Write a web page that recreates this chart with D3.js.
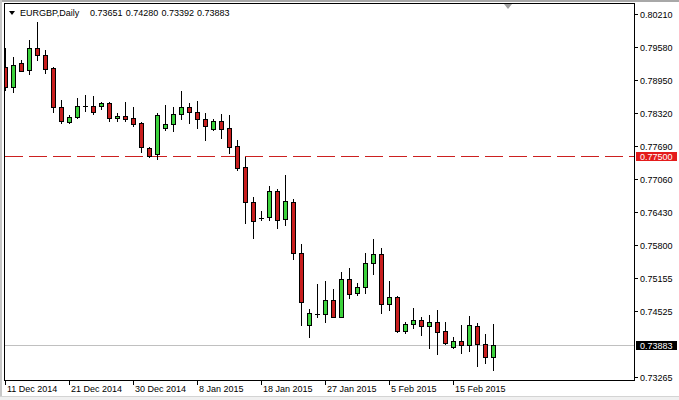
<!DOCTYPE html>
<html>
<head>
<meta charset="utf-8">
<script src="https://cdn.jsdelivr.net/npm/d3@7"></script>
<style>
  body { margin: 0; background: #fff; }
  svg { display: block; }
  text { font-family: "Liberation Sans", Arial, sans-serif; font-size: 9px; }
</style>
</head>
<body>
<div id="chart"></div>
<script>
// EURGBP daily candles, 11 Dec 2014 .. 20 Feb 2015
var opens  = [0.79202,0.78819,0.79273,0.79139,0.79560,0.79426,0.79177,0.78431,0.78144,0.78240,
              0.78456,0.78450,0.78456,0.78507,0.78215,0.78264,0.78215,0.78119,0.77641,0.77526,
              0.78035,0.78100,0.78291,0.78425,0.78341,0.78207,0.78016,0.78157,0.78023,0.77685,
              0.77277,0.76608,0.76307,0.76321,0.76824,0.76282,0.76613,0.75632,0.74251,0.74471,
              0.74465,0.74733,0.74419,0.75135,0.74863,0.74978,0.75441,0.75619,0.74656,0.74796,
              0.74136,0.74274,0.74350,0.74241,0.74312,0.74146,0.73834,0.73954,0.73872,0.74241,
              0.73891,0.73651];
var highs  = [0.79560,0.79387,0.79330,0.79713,0.80057,0.79521,0.79196,0.78565,0.78278,0.78603,
              0.78660,0.78641,0.78527,0.78527,0.78316,0.78527,0.78437,0.78150,0.77671,0.78310,
              0.78469,0.78425,0.78737,0.78513,0.78546,0.78310,0.78207,0.78297,0.78278,0.77800,
              0.77469,0.76703,0.76441,0.76920,0.76862,0.77130,0.76665,0.75810,0.74561,0.75045,
              0.75102,0.74945,0.75265,0.75351,0.75058,0.75632,0.75906,0.75728,0.75102,0.74815,
              0.74323,0.74580,0.74408,0.74452,0.74547,0.74312,0.74036,0.74260,0.74432,0.74293,
              0.74088,0.74280];
var lows   = [0.78756,0.78718,0.79110,0.79062,0.79330,0.79081,0.78335,0.78125,0.78125,0.78220,
              0.78354,0.78297,0.78393,0.78163,0.78163,0.78163,0.78073,0.77576,0.77480,0.77430,
              0.77991,0.77977,0.78196,0.78119,0.78035,0.77800,0.77991,0.77844,0.77545,0.77226,
              0.76217,0.75930,0.76269,0.76269,0.76110,0.76173,0.75517,0.74251,0.74025,0.74404,
              0.74323,0.74408,0.74414,0.74771,0.74834,0.74878,0.75230,0.74484,0.74547,0.74127,
              0.74113,0.74203,0.74069,0.73826,0.73706,0.73891,0.73815,0.73730,0.73769,0.73476,
              0.73539,0.73392];
var closes = [0.78819,0.79234,0.79125,0.79560,0.79426,0.79158,0.78431,0.78163,0.78240,0.78450,
              0.78456,0.78335,0.78513,0.78220,0.78264,0.78207,0.78100,0.77671,0.77499,0.78278,
              0.78106,0.78297,0.78425,0.78341,0.78196,0.78062,0.78157,0.78016,0.77671,0.77264,
              0.76608,0.76244,0.76307,0.76824,0.76275,0.76627,0.75632,0.74691,0.74484,0.74471,
              0.74733,0.74419,0.75135,0.74850,0.74982,0.75441,0.75619,0.74656,0.74796,0.74146,
              0.74279,0.74352,0.74241,0.74312,0.74121,0.73910,0.73954,0.73872,0.74255,0.73891,
              0.73642,0.73883];

// date labels every 8 bars
var dateTickIndex  = [0, 8, 16, 24, 32, 40, 48, 56];
var dateTickLabels = ["11 Dec 2014","21 Dec 2014","30 Dec 2014","8 Jan 2015",
                      "18 Jan 2015","27 Jan 2015","5 Feb 2015","15 Feb 2015"];

var priceTicks = [0.80210,0.79580,0.78950,0.78320,0.77690,0.77060,0.76430,0.75800,0.75155,0.74525,0.73265];

var symbol = "EURGBP,Daily";
var lastOHLC = ["0.73651","0.74280","0.73392","0.73883"];
var levelLine = 0.77500;
var bidPrice  = 0.73883;

var width = 679, height = 400;
var plot = {left: 4, top: 3, right: 634, bottom: 380};

var x_scale = d3.scaleLinear().domain([0, 61]).range([5, 493]);
var y_scale = d3.scaleLinear().domain([0.73208, 0.80401]).range([380, 4]);

var up_color = "#3cd23c", down_color = "#c81e1e";

var svg = d3.select("#chart").append("svg")
    .attr("width", width)
    .attr("height", height)
    .attr("shape-rendering", "crispEdges");

// window edges
svg.append("rect").attr("x", 0).attr("y", 0).attr("width", width).attr("height", 2).attr("fill", "#a8a8a8");
svg.append("rect").attr("x", 0).attr("y", 0).attr("width", 2).attr("height", height).attr("fill", "#c8c8c8");
svg.append("rect").attr("x", 0).attr("y", 396).attr("width", width).attr("height", 4).attr("fill", "#f0f0f0");
svg.append("rect").attr("x", 0).attr("y", 396).attr("width", width).attr("height", 1).attr("fill", "#d4d4d4");

svg.append("defs").append("clipPath").attr("id", "clip")
  .append("rect")
    .attr("x", plot.left + 1).attr("y", plot.top + 1)
    .attr("width", plot.right - plot.left - 1)
    .attr("height", plot.bottom - plot.top - 1);

var g = svg.append("g").attr("clip-path", "url(#clip)");

function py(p) { return Math.round(y_scale(p)); }
function px(i) { return Math.round(x_scale(i)); }

// bid line (grey) and level line (red dashed)
g.append("line")
    .attr("x1", plot.left).attr("x2", plot.right)
    .attr("y1", py(bidPrice) + 0.5).attr("y2", py(bidPrice) + 0.5)
    .attr("stroke", "#c0c0c0");

g.append("line")
    .attr("x1", plot.left + 1).attr("x2", plot.right)
    .attr("y1", py(levelLine) + 0.5).attr("y2", py(levelLine) + 0.5)
    .attr("stroke", "#cc2020")
    .attr("stroke-dasharray", "18,6");

var bars = d3.range(opens.length);

// wicks
g.selectAll("line.wick").data(bars).enter().append("line")
    .attr("class", "wick")
    .attr("x1", function(i) { return px(i) + 0.5; })
    .attr("x2", function(i) { return px(i) + 0.5; })
    .attr("y1", function(i) { return py(highs[i]); })
    .attr("y2", function(i) { return py(lows[i]) + 1; })
    .attr("stroke", "#000");

// bodies
bars.forEach(function(i) {
  var top = py(Math.max(opens[i], closes[i]));
  var bot = py(Math.min(opens[i], closes[i]));
  var c = px(i);
  if (bot - top < 1) {
    g.append("line")
        .attr("x1", c - 2).attr("x2", c + 3)
        .attr("y1", top + 0.5).attr("y2", top + 0.5)
        .attr("stroke", "#000");
  } else {
    g.append("rect")
        .attr("x", c - 1.5).attr("y", top + 0.5)
        .attr("width", 4).attr("height", bot - top)
        .attr("fill", closes[i] >= opens[i] ? up_color : down_color)
        .attr("stroke", "#000");
  }
});

// frame
svg.append("rect")
    .attr("x", plot.left + 0.5).attr("y", plot.top + 0.5)
    .attr("width", plot.right - plot.left).attr("height", plot.bottom - plot.top)
    .attr("fill", "none").attr("stroke", "#000");

// chart shift marker
svg.append("path")
    .attr("d", "M504,4 L512,4 L508,9 Z")
    .attr("fill", "#a0a0a0")
    .attr("shape-rendering", "auto");

// price axis
priceTicks.forEach(function(p) {
  var y = py(p);
  svg.append("line")
      .attr("x1", plot.right).attr("x2", plot.right + 4)
      .attr("y1", y + 0.5).attr("y2", y + 0.5)
      .attr("stroke", "#000");
  svg.append("text")
      .attr("x", 640).attr("y", y + 3.5)
      .attr("fill", "#000")
      .text(d3.format(".5f")(p));
});

// price labels for level and bid
function priceBox(p, fill) {
  var y = py(p);
  svg.append("rect")
      .attr("x", 636).attr("y", y - 4)
      .attr("width", 41).attr("height", 9)
      .attr("fill", fill);
  svg.append("text")
      .attr("x", 640).attr("y", y + 3.5)
      .attr("fill", "#fff")
      .text(d3.format(".5f")(p));
}
priceBox(levelLine, "#e41b1b");
priceBox(bidPrice, "#000");

// date axis
dateTickIndex.forEach(function(i, k) {
  var x = px(i);
  svg.append("line")
      .attr("x1", x + 0.5).attr("x2", x + 0.5)
      .attr("y1", plot.bottom).attr("y2", plot.bottom + 5)
      .attr("stroke", "#000");
  svg.append("text")
      .attr("x", x + 2).attr("y", 392)
      .attr("fill", "#000")
      .text(dateTickLabels[k]);
});

// header
svg.append("path")
    .attr("d", "M9,11 L15,11 L12,15 Z")
    .attr("fill", "#000")
    .attr("shape-rendering", "auto");
svg.append("text").attr("x", 20).attr("y", 16).text(symbol);
lastOHLC.forEach(function(s, k) {
  svg.append("text").attr("x", 90 + k * 35.7).attr("y", 16).text(s);
});
</script>
</body>
</html>
